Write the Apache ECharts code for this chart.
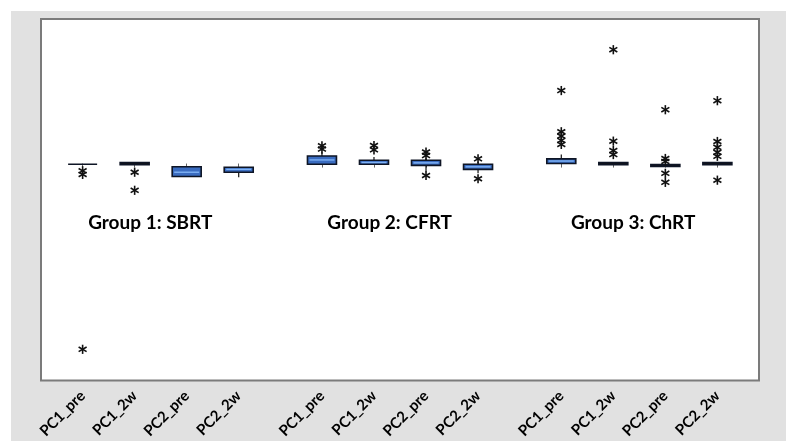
<!DOCTYPE html>
<html>
<head>
<meta charset="utf-8">
<script src="https://cdn.jsdelivr.net/npm/echarts@6/dist/echarts.min.js"></script>
<style>
  html, body { margin: 0; padding: 0; background: #fff; }
  #main { width: 786px; height: 441px; }
</style>
</head>
<body>
<div id="main"></div>
<script>
  // x position of each box (groups are separated by a wider gap)
  var positions = [1, 2, 3, 4, 5.6, 6.6, 7.6, 8.6, 10.2, 11.2, 12.2, 13.2];
  var categories = ['PC1_pre', 'PC1_2w', 'PC2_pre', 'PC2_2w',
                    'PC1_pre', 'PC1_2w', 'PC2_pre', 'PC2_2w',
                    'PC1_pre', 'PC1_2w', 'PC2_pre', 'PC2_2w'];
  var groupNames = ['Group 1: SBRT', 'Group 2: CFRT', 'Group 3: ChRT'];

  // box statistics
  var boxMin = [-0.02, -0.03, -0.36, -0.38,  0.00, -0.02, -0.21, -0.27,  0.00, -0.03, -0.08, -0.03];
  var boxQ1  = [-0.02, -0.03, -0.36, -0.24, -0.02, -0.02, -0.05, -0.16,  0.00, -0.03, -0.08, -0.03];
  var boxMed = [-0.02,  0.00, -0.24, -0.16,  0.10,  0.03,  0.02, -0.09,  0.07,  0.00, -0.05,  0.00];
  var boxQ3  = [-0.02,  0.03, -0.09, -0.10,  0.21,  0.09,  0.09, -0.02,  0.13,  0.03, -0.03,  0.03];
  var boxMax = [-0.02,  0.03, -0.09, -0.10,  0.31,  0.18,  0.15,  0.05,  0.25,  0.03, -0.03,  0.03];

  var outliers = [
    [-0.20, -0.30, -5.14],
    [-0.24, -0.74],
    [],
    [],
    [0.40, 0.49],
    [0.50, 0.38],
    [0.32, 0.22, -0.33],
    [0.13, -0.42],
    [2.02, 0.88, 0.76, 0.64, 0.53],
    [3.15, 0.62, 0.36, 0.25],
    [1.49, 0.14, 0.06, -0.27, -0.52],
    [1.74, 0.61, 0.45, 0.31, 0.20, -0.46]
  ];

  var groupCenters = [2.3, 6.9, 11.58];

  var boxData = positions.map(function(p, i) {
    return [p, boxMin[i], boxQ1[i], boxMed[i], boxQ3[i], boxMax[i]];
  });
  var outData = [];
  outliers.forEach(function(list, i) {
    list.forEach(function(v) { outData.push([positions[i], v]); });
  });

  var chart = echarts.init(document.getElementById('main'));

  function renderBox(params, api) {
    var x = api.value(0);
    var pMin = api.coord([x, api.value(1)]);
    var pQ1 = api.coord([x, api.value(2)]);
    var pMed = api.coord([x, api.value(3)]);
    var pQ3 = api.coord([x, api.value(4)]);
    var pMax = api.coord([x, api.value(5)]);
    var cx = pMed[0];
    var w = 29;
    var h = pQ1[1] - pQ3[1];
    var children = [];
    if (pMax[1] < pQ3[1] - 0.5) {
      children.push({ type: 'line', shape: { x1: cx, y1: pQ3[1], x2: cx, y2: pMax[1] },
        style: { stroke: '#111', lineWidth: 1.2 } });
    }
    if (pMin[1] > pQ1[1] + 0.5) {
      children.push({ type: 'line', shape: { x1: cx, y1: pQ1[1], x2: cx, y2: pMin[1] },
        style: { stroke: '#111', lineWidth: 1.2 } });
    }
    children.push({ type: 'rect', shape: { x: cx - w / 2, y: pQ3[1], width: w, height: h },
      style: { fill: h > 3 ? '#3a6cc0' : '#111', stroke: '#0e1525', lineWidth: 1.6 } });
    if (h > 3) {
      children.push({ type: 'line', shape: { x1: cx - w / 2 + 2, y1: pMed[1], x2: cx + w / 2 - 2, y2: pMed[1] },
        style: { stroke: '#7fb2f4', lineWidth: 1.4 } });
    }
    return { type: 'group', children: children };
  }

  function renderStar(params, api) {
    var p = api.coord([api.value(0), api.value(1)]);
    var r = 4.6;
    var dx = r * 0.87, dy = r * 0.5;
    var st = { stroke: '#111', lineWidth: 1.6 };
    return { type: 'group', children: [
      { type: 'line', shape: { x1: p[0], y1: p[1] - r, x2: p[0], y2: p[1] + r }, style: st },
      { type: 'line', shape: { x1: p[0] - dx, y1: p[1] - dy, x2: p[0] + dx, y2: p[1] + dy }, style: st },
      { type: 'line', shape: { x1: p[0] - dx, y1: p[1] + dy, x2: p[0] + dx, y2: p[1] - dy }, style: st }
    ] };
  }

  chart.setOption({
    animation: false,
    grid: { left: 41, top: 19, right: 27, bottom: 59, show: true,
            backgroundColor: '#fff', borderColor: '#7b7b7b', borderWidth: 2 },
    xAxis: {
      type: 'value', min: 0.2, max: 14,
      splitLine: { show: false },
      axisLine: { show: false },
      axisTick: { show: true, length: 4, lineStyle: { color: '#666' }, customValues: positions },
      axisLabel: {
        customValues: positions, rotate: 45, margin: 13,
        fontFamily: 'Lato', fontWeight: 'bold', fontSize: 15, color: '#000',
        formatter: function(v) {
          for (var i = 0; i < positions.length; i++) {
            if (Math.abs(positions[i] - v) < 1e-6) return categories[i];
          }
          return '';
        }
      }
    },
    yAxis: {
      type: 'value', min: -6, max: 4,
      axisLine: { show: false }, axisTick: { show: false },
      axisLabel: { show: false }, splitLine: { show: false }
    },
    series: [
      { type: 'custom', renderItem: renderBox, data: boxData,
        encode: { x: 0, y: [1, 2, 3, 4, 5] } },
      { type: 'custom', renderItem: renderStar, data: outData,
        encode: { x: 0, y: 1 } }
    ]
  });

  var labels = groupNames.map(function(name, i) {
    var x = chart.convertToPixel({ xAxisIndex: 0 }, groupCenters[i]);
    return { type: 'text', x: x, y: 223,
      style: { text: name, fill: '#000', font: 'bold 19px Lato',
               textAlign: 'center', textVerticalAlign: 'middle' } };
  });
  chart.setOption({ graphic: [
    { type: 'rect', z: -10, silent: true,
      shape: { x: 11, y: 11, width: 775, height: 430 }, style: { fill: '#e1e1e1' } }
  ].concat(labels) });
</script>
</body>
</html>
